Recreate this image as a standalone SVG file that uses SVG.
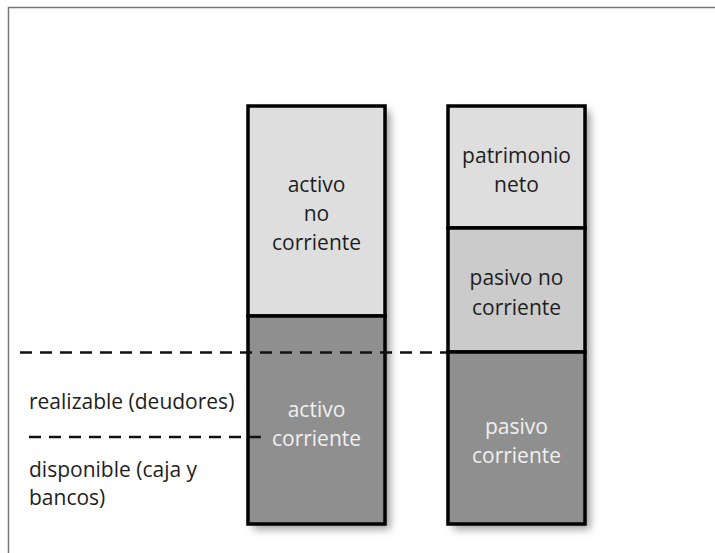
<svg xmlns="http://www.w3.org/2000/svg" width="715" height="553" viewBox="0 0 715 553">
<style>
.t{font-family:"Open Sans","DejaVu Sans",sans-serif;font-size:21px;text-anchor:middle}
.dk{fill:#1e1e1e}
.lt{fill:#f0f0f0}
.lbl{font-family:"Open Sans","DejaVu Sans",sans-serif;font-size:21px;fill:#1e1e1e}
.box{stroke:#000;stroke-width:3.5}
.dash{stroke:#111;stroke-width:2.5;stroke-dasharray:12 8;fill:none}
</style>
<defs>
<filter id="sh" x="-20%" y="-20%" width="150%" height="150%">
<feDropShadow dx="5" dy="5" stdDeviation="4" flood-color="#000" flood-opacity="0.4"/>
</filter>
</defs>
<rect width="715" height="553" fill="#fff"/>
<path d="M8.5 553 V7.5 H715" fill="none" stroke="#777" stroke-width="1.5"/>
<g filter="url(#sh)">
<rect x="248" y="106" width="137" height="418" fill="#000"/>
<rect x="448" y="106" width="137" height="418" fill="#000"/>
</g>
<g id="activo-no-corriente">
<rect class="box" x="248" y="106" width="137" height="210" fill="#dedede"/>
<text class="t dk" x="316.5" y="192">activo</text>
<text class="t dk" x="316.5" y="221">no</text>
<text class="t dk" x="316.5" y="250">corriente</text>
</g>
<g id="activo-corriente">
<rect class="box" x="248" y="316" width="137" height="208" fill="#8f8f8f"/>
<text class="t lt" x="316.5" y="417">activo</text>
<text class="t lt" x="316.5" y="446">corriente</text>
</g>
<g id="patrimonio-neto">
<rect class="box" x="448" y="106" width="137" height="122" fill="#dedede"/>
<text class="t dk" x="516.5" y="163">patrimonio</text>
<text class="t dk" x="516.5" y="192">neto</text>
</g>
<g id="pasivo-no-corriente">
<rect class="box" x="448" y="228" width="137" height="124" fill="#cbcbcb"/>
<text class="t dk" x="516.5" y="285">pasivo no</text>
<text class="t dk" x="516.5" y="315">corriente</text>
</g>
<g id="pasivo-corriente">
<rect class="box" x="448" y="352" width="137" height="172" fill="#8f8f8f"/>
<text class="t lt" x="516.5" y="434">pasivo</text>
<text class="t lt" x="516.5" y="463">corriente</text>
</g>
<g id="connectors">
<line class="dash" x1="20" y1="352.5" x2="447" y2="352.5"/>
<line class="dash" x1="29" y1="437" x2="264" y2="437"/>
</g>
<g id="labels">
<text class="lbl" x="29" y="409">realizable (deudores)</text>
<text class="lbl" x="29" y="477">disponible (caja y</text>
<text class="lbl" x="29" y="505">bancos)</text>
</g>
</svg>
